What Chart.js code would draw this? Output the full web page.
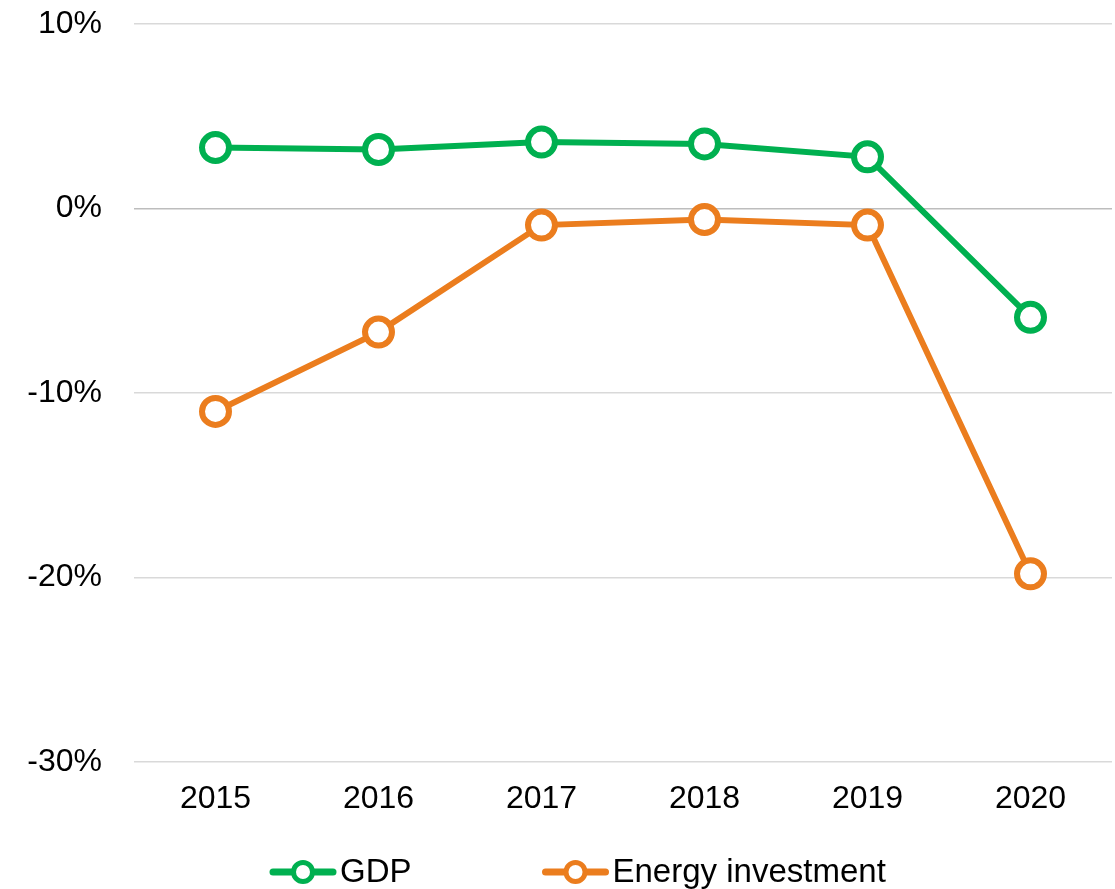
<!DOCTYPE html>
<html>
<head>
<meta charset="utf-8">
<script src="https://cdn.jsdelivr.net/npm/chart.js@4"></script>
<style>
    html, body { margin: 0; padding: 0; background: #ffffff; overflow: hidden; }
    canvas { display: block; }
</style>
</head>
<body>
<canvas id="growthChart" width="1115" height="889"></canvas>
<script>
// Years on the x axis
const years = ['2015', '2016', '2017', '2018', '2019', '2020'];

// Annual change, %
const gdpGrowth = [3.3, 3.2, 3.6, 3.5, 2.8, -5.9];
const energyInvestment = [-11.0, -6.7, -0.9, -0.6, -0.9, -19.8];

// y axis ticks
const yTicks = [10, 0, -10, -20, -30];

const seriesNames = ['GDP', 'Energy investment'];
const seriesColors = ['#00B050', '#EB7D1E'];

const FONT = '"Liberation Sans", Arial, sans-serif';

// legend drawn under the x axis: line with a hollow circle, then the name
const lineLegend = {
    id: 'lineLegend',
    afterDraw(chart) {
        const ctx = chart.ctx;
        const y = 872;
        let x = 270;
        ctx.save();
        ctx.font = '33px ' + FONT;
        ctx.textBaseline = 'middle';
        seriesNames.forEach((name, i) => {
            const color = seriesColors[i];
            ctx.strokeStyle = color;
            ctx.lineCap = 'round';
            ctx.lineWidth = 7;
            ctx.beginPath();
            ctx.moveTo(x + 3, y);
            ctx.lineTo(x + 63, y);
            ctx.stroke();
            ctx.beginPath();
            ctx.arc(x + 33, y, 9.5, 0, Math.PI * 2);
            ctx.fillStyle = '#ffffff';
            ctx.fill();
            ctx.lineWidth = 5;
            ctx.stroke();
            ctx.fillStyle = '#000000';
            ctx.fillText(name, x + 70, y + 1);
            x += 70 + ctx.measureText(name).width + 131;
        });
        ctx.restore();
    }
};

new Chart(document.getElementById('growthChart'), {
    type: 'line',
    data: {
        labels: years,
        datasets: [gdpGrowth, energyInvestment].map((values, i) => ({
            label: seriesNames[i],
            data: values,
            borderColor: seriesColors[i],
            backgroundColor: '#ffffff',
            borderWidth: 6,
            pointRadius: 13.5,
            pointBorderWidth: 6,
            pointBackgroundColor: '#ffffff',
            pointBorderColor: seriesColors[i],
            tension: 0
        }))
    },
    options: {
        responsive: false,
        animation: false,
        layout: {
            autoPadding: false,
            padding: { top: 24, right: 3, bottom: 77, left: 0 }
        },
        plugins: {
            legend: { display: false },
            tooltip: { enabled: false }
        },
        scales: {
            x: {
                offset: true,
                grid: { display: false },
                border: { display: false },
                ticks: {
                    color: '#000000',
                    padding: 10,
                    font: { family: FONT, size: 32 }
                },
                afterFit: (scale) => {
                    scale.height = 50;
                    scale.paddingLeft = 0;
                    scale.paddingRight = 0;
                }
            },
            y: {
                min: -30,
                max: 10,
                border: { display: false },
                grid: {
                    drawTicks: false,
                    lineWidth: 1.5,
                    color: (c) => c.tick && c.tick.value === 0 ? '#BDBDBD' : '#D9D9D9'
                },
                afterBuildTicks: (scale) => {
                    scale.ticks = yTicks.map(v => ({ value: v }));
                },
                ticks: {
                    color: '#000000',
                    padding: 32,
                    font: { family: FONT, size: 32 },
                    callback: (v) => v + '%'
                },
                afterFit: (scale) => {
                    scale.width = 134;
                    scale.paddingTop = 0;
                    scale.paddingBottom = 0;
                }
            }
        }
    },
    plugins: [lineLegend]
});
</script>
</body>
</html>
